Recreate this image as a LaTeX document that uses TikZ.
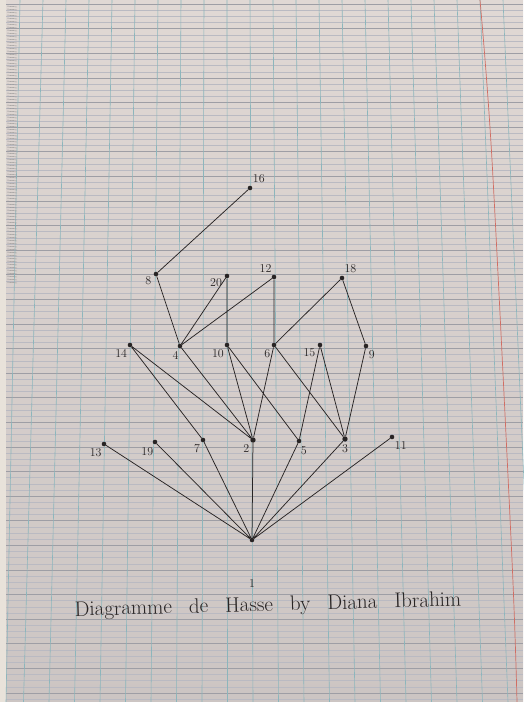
\documentclass[tikz,border=0pt]{standalone}
\usepackage{tikz}
\definecolor{desk}{RGB}{232,226,218}
\definecolor{paper}{RGB}{224,216,212}
\definecolor{paperdark}{RGB}{204,197,195}
\definecolor{gridblue}{RGB}{140,182,188}
\definecolor{gridgray}{RGB}{186,186,194}
\definecolor{marginred}{RGB}{208,110,100}
\definecolor{ink}{RGB}{40,36,36}

\begin{document}
\begin{tikzpicture}[x=1pt, y=-1pt, font=\fontsize{12}{13}\selectfont,
  label distance=1.5pt, every label/.style={text=ink, inner sep=1pt},
  dot/.style={circle, fill=ink, inner sep=0pt, minimum size=4.6pt},
  hasse/.style={draw=ink, line width=0.75pt},
  seyes/.style={draw=gridgray, line width=0.3pt},
  seyesbold/.style={draw=gridgray!85!black, line width=0.4pt},
  column/.style={draw=gridblue, line width=0.6pt}]
\useasboundingbox (0,0) rectangle (523,702);
\fill[desk] (0,0) rectangle (523,702);
\shade[top color=paper, bottom color=paperdark] (6,0) rectangle (523,702);
\foreach \k in {0,...,113}
  \draw[seyes] (6,{4+6.15*\k}) -- (523,{4+6.15*\k});
\foreach \k in {0,4,...,112}
  \draw[seyesbold] (6,{4+6.15*\k}) -- (523,{4+6.15*\k});
\foreach \k in {-10,...,11}
  \draw[column] ({max(6,250+23*\k)},0) -- ({max(6,253+25.5*\k)},702);
\draw[marginred, line width=0.7pt] plot[smooth] coordinates {(480,0) (492,160) (512,560) (517,702)};
\foreach \y in {6,9,...,282}
  \draw[ink!50, line width=0.4pt] (7,\y) -- (17,\y+1);

\node[dot, label={[label distance=0pt]below:\raisebox{-44pt}{1}}] (n1) at (252,540) {};
\node[dot, label=252:13] (n13) at (104,444) {};
\node[dot, label=262:19] (n19) at (155,442) {};
\node[dot, label=245:7] (n7) at (203,440) {};
\node[dot, minimum size=5.4pt, label=235:2] (n2) at (253,440) {};
\node[dot, label=-80:5] (n5) at (299,441) {};
\node[dot, minimum size=5.4pt, label=below:3] (n3) at (345,439) {};
\node[dot, label=-65:11] (n11) at (392,437) {};
\node[dot, label=245:14] (n14) at (130,345) {};
\node[dot, label=265:4] (n4) at (180,346) {};
\node[dot, label=240:10] (n10) at (227,345) {};
\node[dot, label=232:6] (n6) at (274,345) {};
\node[dot, label=210:15] (n15) at (320,345) {};
\node[dot, label=-65:9] (n9) at (366,346) {};
\node[dot, label=205:8] (n8) at (156,274) {};
\node[dot, label=195:20] (n20) at (227,276) {};
\node[dot, label=110:12] (n12) at (274,277) {};
\node[dot, label=70:18] (n18) at (342,278) {};
\node[dot, label=65:16] (n16) at (250,188) {};
\node[text=ink, rotate=1.5, font=\fontsize{21}{24}\selectfont] (title) at (268,606) {\spaceskip=17pt\relax Diagramme de Hasse by Diana Ibrahim};

\draw[hasse] (n1) -- (n13) (n1) -- (n19) (n1) -- (n7) (n1) -- (n2) (n1) -- (n5) (n1) -- (n3) (n1) -- (n11);
\draw[hasse] (n14) -- (n7) (n14) -- (n2) (n4) -- (n2) (n10) -- (n2) (n10) -- (n5) (n6) -- (n2) (n6) -- (n3);
\draw[hasse] (n15) -- (n5) (n15) -- (n3) (n9) -- (n3);
\draw[hasse] (n8) -- (n4) (n20) -- (n4) (n20) -- (n10) (n12) -- (n4) (n12) -- (n6) (n18) -- (n6) (n18) -- (n9);
\draw[hasse] (n16) -- (n8);
\end{tikzpicture}
\end{document}
